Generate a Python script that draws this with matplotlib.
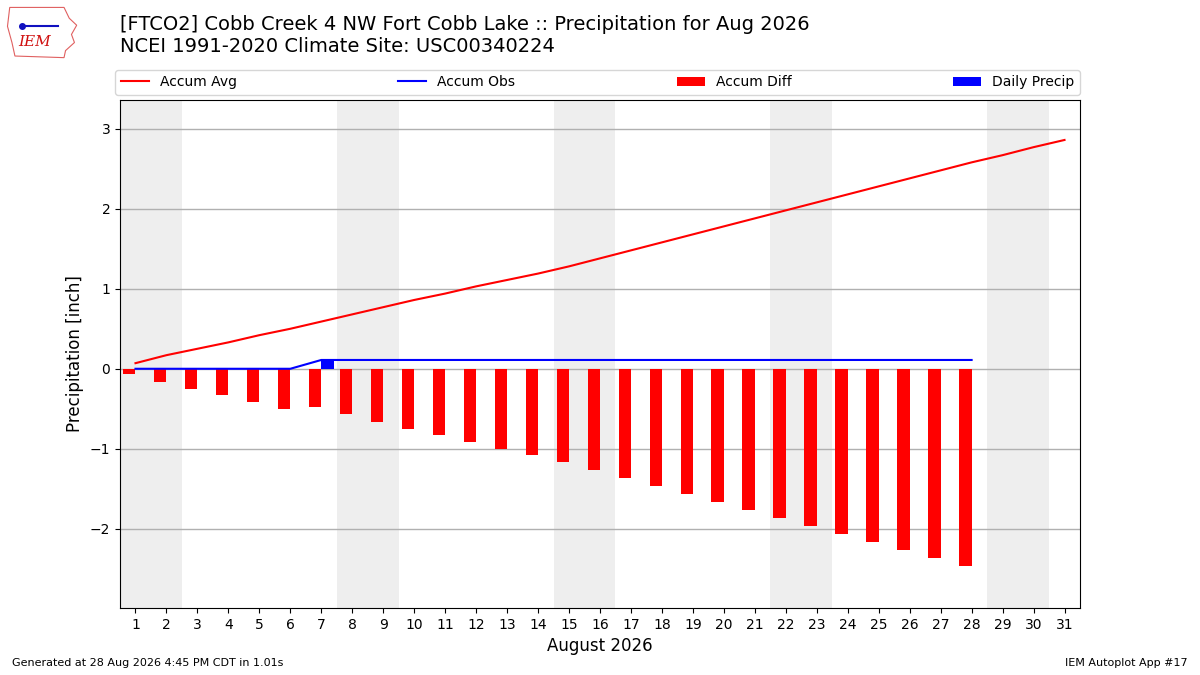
import matplotlib
matplotlib.use("Agg")
import matplotlib.pyplot as plt
from matplotlib.patches import Polygon

# data (inches)
days = list(range(1, 32))
accum_avg = [0.07, 0.17, 0.25, 0.33, 0.42, 0.50, 0.59, 0.68, 0.77, 0.86,
             0.94, 1.03, 1.11, 1.19, 1.28, 1.38, 1.48, 1.58, 1.68, 1.78,
             1.88, 1.98, 2.08, 2.18, 2.28, 2.38, 2.48, 2.58, 2.67, 2.77, 2.86]
obs_days = list(range(1, 29))
accum_obs = [0, 0, 0, 0, 0, 0, 0.11, 0.11, 0.11, 0.11, 0.11, 0.11, 0.11, 0.11,
             0.11, 0.11, 0.11, 0.11, 0.11, 0.11, 0.11, 0.11, 0.11, 0.11, 0.11,
             0.11, 0.11, 0.11]
accum_diff = [-0.07, -0.17, -0.25, -0.33, -0.42, -0.50, -0.48, -0.57, -0.66,
              -0.75, -0.83, -0.92, -1.00, -1.08, -1.17, -1.27, -1.37, -1.47,
              -1.57, -1.67, -1.77, -1.87, -1.97, -2.07, -2.17, -2.27, -2.37,
              -2.47]
daily_precip = [0, 0, 0, 0, 0, 0, 0.11, 0, 0, 0, 0, 0, 0, 0, 0, 0, 0, 0, 0,
                0, 0, 0, 0, 0, 0, 0, 0, 0]
weekends = [(1, 2), (8, 9), (15, 16), (22, 23), (29, 30)]

title = ("[FTCO2] Cobb Creek 4 NW Fort Cobb Lake :: Precipitation for Aug 2026\n"
         "NCEI 1991-2020 Climate Site: USC00340224")

fig = plt.figure(figsize=(12, 6.75), dpi=100)
ax = fig.add_axes([0.1, 0.0993, 0.8, 0.7526])

for a, b in weekends:
    ax.axvspan(a - 0.5, b + 0.5, color="#eeeeee", zorder=0, lw=0)

ax.plot(days, accum_avg, color="red", lw=1.5, label="Accum Avg", zorder=3)
ax.plot(obs_days, accum_obs, color="blue", lw=1.5, label="Accum Obs", zorder=3)
ax.bar(obs_days, accum_diff, width=-0.4, align="edge", color="red",
       label="Accum Diff", zorder=2)
ax.bar(obs_days, daily_precip, width=0.4, align="edge", color="blue",
       label="Daily Precip", zorder=2)

ax.set_xlim(0.5, 31.5)
ax.set_ylim(-2.99, 3.36)
ax.set_xticks(days)
ax.set_yticks([-2, -1, 0, 1, 2, 3])
ax.grid(axis="y", color="#b0b0b0", lw=1)
ax.set_xlabel("August 2026", fontsize=12)
ax.set_ylabel("Precipitation [inch]", fontsize=12)

ax.legend(bbox_to_anchor=(-0.005, 1.01, 1.005, 0.05), loc="lower left",
          ncol=4, mode="expand", borderaxespad=0, fontsize=10)

fig.text(0.1, 0.978, title, fontsize=14, va="top", ha="left")
fig.text(0.01, 0.01, "Generated at 28 Aug 2026 4:45 PM CDT in 1.01s",
         fontsize=8, ha="left", va="bottom")
fig.text(0.99, 0.01, "IEM Autoplot App #17", fontsize=8, ha="right",
         va="bottom")

# rough IEM logo: state outline + text
logo = fig.add_axes([0.005, 0.913, 0.062, 0.08])
logo.axis("off")
logo.set_xlim(0, 1)
logo.set_ylim(0, 1)
outline = [(0.05, 0.95), (0.78, 0.95), (0.85, 0.75), (0.95, 0.62), (0.88, 0.45),
           (0.92, 0.3), (0.8, 0.15), (0.78, 0.02), (0.12, 0.05), (0.08, 0.3),
           (0.02, 0.6)]
logo.add_patch(Polygon(outline, closed=True, fill=False, ec="#e06060", lw=0.8))
logo.plot([0.22, 0.7], [0.6, 0.6], color="#1010c0", lw=1.5)
logo.plot([0.22], [0.6], "o", color="#1010c0", ms=4)
logo.text(0.38, 0.18, "IEM", color="#d01010", fontsize=11, style="italic",
          family="DejaVu Serif", ha="center", va="bottom")

fig.savefig("out.png", dpi=100)
